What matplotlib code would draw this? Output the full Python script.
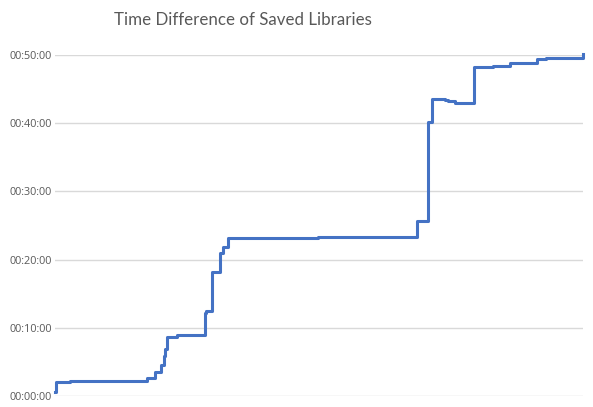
import matplotlib
matplotlib.use("Agg")
import matplotlib.pyplot as plt
from matplotlib.ticker import FuncFormatter

# Step breakpoints: record index and elapsed minutes
record_index = [0, 1, 15, 92, 100, 106, 109, 110, 112, 122, 150, 151, 157, 165, 168, 173,
                263, 362, 373, 377, 390, 393, 400, 419, 438, 455, 482, 491, 527, 528]
elapsed_minutes = [0.6, 2.1, 2.25, 2.6, 3.5, 4.6, 5.8, 6.9, 8.7, 8.9, 12.1, 12.4, 18.2, 21.0, 21.8, 23.2,
                   23.3, 25.6, 40.2, 43.5, 43.4, 43.2, 43.0, 48.2, 48.4, 48.8, 49.4, 49.6, 49.6, 50.1]
tick_minutes = [0, 10, 20, 30, 40, 50]
title_text = "Time Difference of Saved Libraries"

fig = plt.figure(figsize=(5.93, 4.07), dpi=100)
ax = fig.add_axes([55/593, 1-396/407, (583-55)/593, (396-55)/407])

ax.step(record_index, elapsed_minutes, where="post", color="#4472C4", linewidth=2.2,
        solid_joinstyle="round", clip_on=False, zorder=3)

ax.set_xlim(0, 528)
ax.set_ylim(0, 50)
ax.set_yticks(tick_minutes)
ax.yaxis.set_major_formatter(FuncFormatter(lambda v, p: "00:%02d:00" % int(round(v))))
ax.set_xticks([])
ax.grid(axis="y", color="#d9d9d9", linewidth=1.0)
ax.set_axisbelow(True)
for s in ax.spines.values():
    s.set_visible(False)
ax.tick_params(axis="y", length=0, pad=2.5, labelsize=7.8, labelcolor="#595959")
for lab in ax.get_yticklabels():
    lab.set_family(["Open Sans", "DejaVu Sans"])

fig.text(243/593, 1-20/407, title_text, ha="center", va="center", fontsize=12.2,
         color="#595959", family=["Lato", "DejaVu Sans"])

fig.savefig("out.png", dpi=100)
